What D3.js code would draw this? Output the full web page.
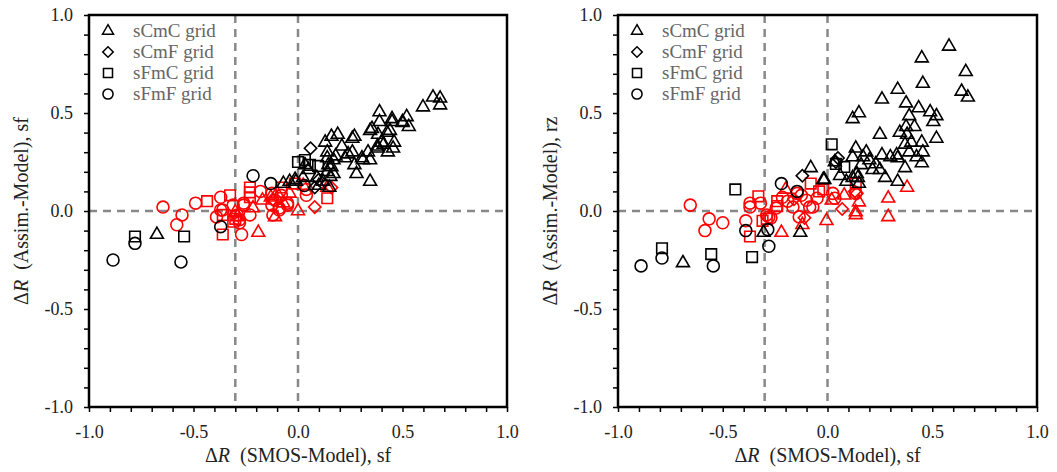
<!DOCTYPE html>
<html lang="en">
<head>
  <meta charset="UTF-8">
  <script src="https://d3js.org/d3.v7.min.js"></script>
  <style>
    body { margin: 0; background: #ffffff; font-family: "Liberation Serif", "Times New Roman", serif; }
    .tick-label { font-size: 18px; fill: #222; }
    .axis-title { font-size: 20px; fill: #222; }
    .legend-text { font-size: 19px; fill: #666; }
  </style>
</head>
<body>
  <div id="chart"></div>
  <script>
    // legend / series names
    const seriesNames = ["sCmC grid", "sCmF grid", "sFmC grid", "sFmF grid"];
    const xTicks = [-1.0, -0.5, 0.0, 0.5, 1.0];
    const yTicks = [-1.0, -0.5, 0.0, 0.5, 1.0];

    // left panel (sf) - black
    const sfTriBlack = [[-0.675,-0.12],[0.646,0.58],[0.68,0.575],[0.68,0.54],[0.598,0.53],[0.39,0.505],[0.39,0.455],
      [0.45,0.47],[0.45,0.455],[0.50,0.455],[0.52,0.48],[0.53,0.43],[0.50,0.45],[0.345,0.41],[0.354,0.42],[0.383,0.39],
      [0.426,0.40],[0.44,0.41],[0.40,0.35],[0.41,0.34],[0.46,0.35],[0.455,0.32],[0.43,0.30],[0.38,0.32],[0.38,0.33],
      [0.335,0.30],[0.345,0.26],[0.31,0.26],[0.306,0.27],[0.27,0.235],[0.28,0.19],[0.345,0.15],[0.13,0.35],[0.16,0.38],
      [0.19,0.39],[0.26,0.37],[0.27,0.38],[0.21,0.33],[0.26,0.30],[0.24,0.29],[0.225,0.27],[0.18,0.28],[0.17,0.26],
      [0.14,0.27],[0.14,0.30],[0.145,0.235],[0.16,0.225],[0.17,0.19],[0.155,0.175],[0.033,0.235],[0.05,0.21],[0.09,0.17],
      [-0.014,0.16],[0.024,0.17],[-0.07,0.14],[-0.04,0.15],[-0.01,0.15],[0.12,0.15],[0.14,0.20],[0.15,0.12],[0.10,0.13]];
    const sfDiaBlack = [[0.06,0.32],[0.08,0.12],[0.10,0.16]];
    const sfSqBlack = [[-0.78,-0.13],[-0.545,-0.13],[0.033,0.26],[0.096,0.23],[0.057,0.235],[0.0,0.25]];
    const sfCirBlack = [[-0.885,-0.25],[-0.78,-0.165],[-0.56,-0.26],[-0.37,-0.08],[-0.215,0.18],[-0.13,0.14],[0.03,0.13]];
    // left panel (sf) - red
    const sfTriRed = [[-0.19,-0.11],[0.0,0.0],[-0.215,0.015],[-0.11,-0.03],[-0.1,0.09],[-0.04,0.09],[0.025,0.13],
      [0.14,0.12],[-0.29,-0.03],[-0.07,0.04],[-0.17,0.055],[-0.3,-0.005],[-0.13,0.07]];
    const sfDiaRed = [[0.08,0.02],[0.16,0.12],[-0.12,0.06]];
    const sfSqRed = [[-0.435,0.05],[-0.325,0.08],[-0.36,-0.12],[-0.23,0.12],[-0.23,0.095],[-0.23,0.07],[-0.31,-0.055],
      [-0.36,-0.02],[-0.08,0.12],[-0.015,0.14],[0.14,0.065],[-0.30,-0.04]];
    const sfCirRed = [[-0.646,0.02],[-0.555,-0.02],[-0.58,-0.07],[-0.49,0.04],[-0.37,0.07],[-0.39,-0.03],[-0.36,0.005],
      [-0.31,0.03],[-0.29,-0.02],[-0.26,0.04],[-0.27,-0.12],[-0.23,-0.02],[-0.18,0.10],[-0.125,0.09],[-0.125,0.03],
      [-0.12,-0.02],[-0.09,0.005],[-0.05,0.04],[0.04,0.08],[0.04,0.11],[-0.05,0.03],[-0.09,0.015],[-0.08,0.08],
      [-0.11,0.055],[-0.26,0.03],[-0.37,0.005],[-0.28,-0.06],[-0.28,-0.045]];

    // right panel (rz) - black
    const rzTriBlack = [[0.58,0.84],[0.45,0.78],[0.66,0.71],[0.455,0.65],[0.335,0.62],[0.26,0.57],[0.375,0.55],[0.64,0.61],
      [0.67,0.58],[0.15,0.50],[0.12,0.47],[0.435,0.525],[0.49,0.505],[0.52,0.485],[0.505,0.455],[0.39,0.485],[0.375,0.43],
      [0.415,0.43],[0.345,0.40],[0.25,0.39],[0.38,0.39],[0.52,0.37],[0.37,0.34],[0.40,0.35],[0.45,0.35],[0.39,0.30],
      [0.455,0.30],[0.425,0.275],[0.45,0.245],[0.26,0.285],[0.30,0.275],[0.33,0.285],[0.335,0.27],[0.37,0.22],[0.335,0.15],
      [0.275,0.17],[0.25,0.21],[0.215,0.21],[0.23,0.24],[0.20,0.26],[0.185,0.30],[0.17,0.275],[0.135,0.32],[0.12,0.275],
      [0.16,0.235],[0.14,0.19],[0.12,0.17],[0.145,0.17],[0.035,0.25],[0.06,0.18],[-0.015,0.16],[-0.69,-0.265],
      [-0.305,-0.11],[-0.13,-0.11],[-0.08,0.22],[-0.02,0.16],[0.15,0.14],[0.09,0.15]];
    const rzDiaBlack = [[-0.12,0.18],[0.05,0.27],[0.04,0.25]];
    const rzSqBlack = [[0.02,0.34],[0.08,0.225],[0.04,0.24],[-0.44,0.11],[-0.79,-0.19],[-0.555,-0.22],[-0.36,-0.235]];
    const rzCirBlack = [[-0.89,-0.28],[-0.79,-0.24],[-0.545,-0.28],[-0.39,-0.10],[-0.28,-0.18],[-0.22,0.14],[-0.145,0.10],[-0.285,-0.095]];
    // right panel (rz) - red
    const rzTriRed = [[-0.20,0.11],[-0.22,-0.11],[-0.12,-0.07],[-0.005,-0.05],[0.02,0.055],[0.08,0.08],[0.15,0.045],
      [0.135,-0.005],[0.135,-0.02],[0.29,0.065],[0.29,-0.03],[0.38,0.12]];
    const rzDiaRed = [[-0.11,-0.035],[0.07,0.01],[0.14,0.09],[0.13,0.10],[-0.16,0.06]];
    const rzSqRed = [[-0.37,-0.13],[-0.33,0.075],[-0.31,-0.05],[-0.24,0.05],[-0.24,0.025],[-0.08,0.14],[-0.04,0.10],
      [-0.02,0.11],[0.135,0.14],[-0.29,-0.04]];
    const rzCirRed = [[-0.655,0.03],[-0.565,-0.04],[-0.585,-0.10],[-0.50,-0.06],[-0.39,-0.05],[-0.37,0.04],[-0.37,0.02],
      [-0.32,0.04],[-0.29,-0.02],[-0.27,-0.035],[-0.245,0.015],[-0.19,0.05],[-0.165,0.02],[-0.135,-0.03],[-0.10,0.055],
      [-0.07,0.02],[-0.125,0.08],[-0.05,0.065],[-0.28,-0.03],[-0.215,0.07],[-0.145,0.09],[-0.085,0.02],[0.025,0.09],
      [0.035,0.065],[0.135,0.09]];

    const width = 1057, height = 472;
    const svg = d3.select("#chart").append("svg")
      .attr("width", width).attr("height", height)
      .style("background", "#fff");

    const shapes = {
      tri: d3.symbol().type(d3.symbolTriangle).size(72),
      dia: d3.symbol().type(d3.symbolSquare).size(76),
      sq: d3.symbol().type(d3.symbolSquare).size(112),
      cir: d3.symbol().type(d3.symbolCircle).size(112)
    };
    const rot = { tri: 0, dia: 45, sq: 0, cir: 0 };

    function panel(left, right, yName, sets) {
      const top = 15, bottom = 407;
      const x = d3.scaleLinear().domain([-1, 1]).range([left, right]);
      const y = d3.scaleLinear().domain([-1, 1]).range([bottom, top]);
      const g = svg.append("g");

      // dashed reference lines
      const dash = "8,6";
      g.append("line").attr("x1", left).attr("x2", right).attr("y1", y(0)).attr("y2", y(0))
        .attr("stroke", "#888").attr("stroke-width", 2.5).attr("stroke-dasharray", dash);
      [-0.3, 0].forEach(v => {
        g.append("line").attr("x1", x(v)).attr("x2", x(v)).attr("y1", top).attr("y2", bottom)
          .attr("stroke", "#888").attr("stroke-width", 2.5).attr("stroke-dasharray", dash);
      });

      // axes with minor ticks every 0.1
      const minor = d3.range(-10, 11).map(d => d / 10);
      const xAxis = d3.axisBottom(x).tickValues(minor).tickSize(5)
        .tickFormat(d => xTicks.some(t => Math.abs(t - d) < 1e-9) ? d3.format(".1f")(d) : "");
      const yAxis = d3.axisLeft(y).tickValues(minor).tickSize(5)
        .tickFormat(d => yTicks.some(t => Math.abs(t - d) < 1e-9) ? d3.format(".1f")(d) : "");
      const gx = g.append("g").attr("transform", `translate(0,${bottom})`).call(xAxis);
      const gy = g.append("g").attr("transform", `translate(${left},0)`).call(yAxis);
      [gx, gy].forEach(a => {
        a.select(".domain").remove();
        a.selectAll(".tick line").attr("stroke", "#000").attr("stroke-width", 1.5);
        a.selectAll(".tick text").attr("class", "tick-label").style("font-family", "Liberation Serif")
          .text(function () { return this.textContent.replace("−", "-"); });
      });
      gx.selectAll(".tick text").attr("y", 14).attr("dy", "0.95em");
      gy.selectAll(".tick text").attr("x", -16);

      // frame
      g.append("rect").attr("x", left).attr("y", top).attr("width", right - left).attr("height", bottom - top)
        .attr("fill", "none").attr("stroke", "#000").attr("stroke-width", 2.5);

      // points
      sets.forEach(s => {
        g.selectAll(null).data(s.data).enter().append("path")
          .attr("d", shapes[s.shape])
          .attr("transform", d => `translate(${x(d[0])},${y(d[1])}) rotate(${rot[s.shape]})`)
          .attr("fill", "none").attr("stroke", s.color).attr("stroke-width", 1.6);
      });

      // legend
      ["tri", "dia", "sq", "cir"].forEach((k, i) => {
        const ly = top + 16 + i * 21;
        g.append("path").attr("d", shapes[k])
          .attr("transform", `translate(${left + 19},${ly}) rotate(${rot[k]}) scale(0.85)`)
          .attr("fill", "none").attr("stroke", "#000").attr("stroke-width", 1.8);
        g.append("text").attr("class", "legend-text").attr("x", left + 44).attr("y", ly + 6)
          .text(seriesNames[i]);
      });

      // axis titles
      const xt = g.append("text").attr("class", "axis-title").attr("text-anchor", "middle")
        .attr("x", x(0)).attr("y", 462);
      xt.append("tspan").text("Δ");
      xt.append("tspan").attr("font-style", "italic").text("R");
      xt.append("tspan").text("\u00a0 (SMOS-Model), sf");

      const yt = g.append("text").attr("class", "axis-title").attr("text-anchor", "middle")
        .attr("transform", `translate(${left - 61},${y(0)}) rotate(-90)`);
      yt.append("tspan").text("Δ");
      yt.append("tspan").attr("font-style", "italic").text("R");
      yt.append("tspan").text(`\u00a0 (Assim.-Model), ${yName}`);
    }

    panel(89, 507, "sf", [
      { data: sfTriRed, shape: "tri", color: "#f00" },
      { data: sfDiaRed, shape: "dia", color: "#f00" },
      { data: sfSqRed, shape: "sq", color: "#f00" },
      { data: sfCirRed, shape: "cir", color: "#f00" },
      { data: sfTriBlack, shape: "tri", color: "#000" },
      { data: sfDiaBlack, shape: "dia", color: "#000" },
      { data: sfSqBlack, shape: "sq", color: "#000" },
      { data: sfCirBlack, shape: "cir", color: "#000" }
    ]);
    panel(618, 1037, "rz", [
      { data: rzTriRed, shape: "tri", color: "#f00" },
      { data: rzDiaRed, shape: "dia", color: "#f00" },
      { data: rzSqRed, shape: "sq", color: "#f00" },
      { data: rzCirRed, shape: "cir", color: "#f00" },
      { data: rzTriBlack, shape: "tri", color: "#000" },
      { data: rzDiaBlack, shape: "dia", color: "#000" },
      { data: rzSqBlack, shape: "sq", color: "#000" },
      { data: rzCirBlack, shape: "cir", color: "#000" }
    ]);
  </script>
</body>
</html>
